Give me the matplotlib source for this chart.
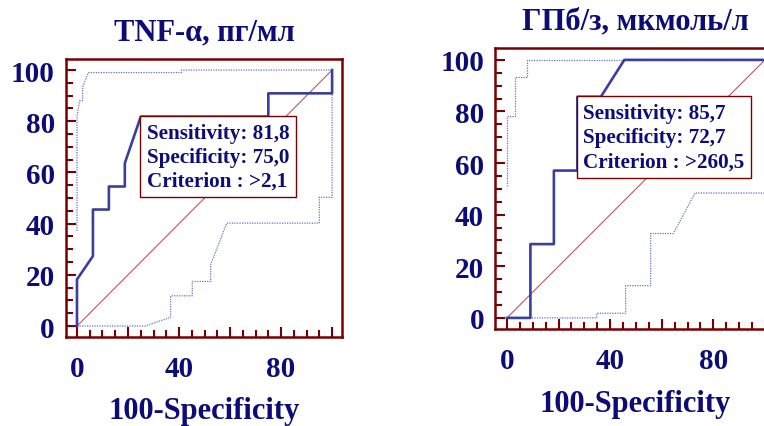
import matplotlib
matplotlib.use("Agg")
import matplotlib.pyplot as plt
from matplotlib.ticker import FixedLocator, MultipleLocator, FuncFormatter

plt.rcParams['font.family'] = ['Liberation Serif', 'DejaVu Serif']
plt.rcParams['font.weight'] = 'bold'

# TNF-alpha
tnf_fpr = [0, 0, 6.25, 6.25, 12.5, 12.5, 18.75, 18.75, 25, 75, 75, 100, 100]
tnf_tpr = [0, 18.2, 27.3, 45.5, 45.5, 54.5, 54.5, 63.6, 81.8, 81.8, 90.9, 90.9, 100]
tnf_up_x = [0, 0, 1.0, 2.2, 2.2, 4.5, 41, 41, 100]
tnf_up_y = [37.2, 82, 88, 88, 93.5, 99, 99, 100, 100]
tnf_lo_x = [0, 26.7, 36.7, 36.7, 45.2, 45.2, 52.4, 52.4, 58.7, 95, 95, 100, 100]
tnf_lo_y = [0, 0, 3.4, 11.8, 11.8, 17.4, 17.4, 24, 40.2, 40.2, 50.3, 50.3, 100]
tnf_point = (25, 81.8)
tnf_text = "Sensitivity: 81,8\nSpecificity: 75,0\nCriterion : >2,1"

# ГПб/з
gpb_fpr = [0, 9.1, 9.1, 18.2, 18.2, 27.3, 27.3, 36.4, 45.5, 100]
gpb_tpr = [0, 0, 28.6, 28.6, 57.1, 57.1, 85.7, 85.7, 100, 100]
gpb_up_x = [0, 0, 3.1, 3.1, 7.9, 7.9, 100]
gpb_up_y = [51.3, 78.2, 78.2, 93.5, 93.5, 100, 100]
gpb_lo_x = [0, 34.8, 34.8, 46, 46, 55.7, 55.7, 64.5, 72.9, 100, 100]
gpb_lo_y = [0, 0, 1.8, 1.8, 12.5, 12.5, 32.7, 32.7, 48.4, 48.4, 100]
gpb_point = (27.3, 85.7)
gpb_text = "Sensitivity: 85,7\nSpecificity: 72,7\nCriterion : >260,5"

navy = '#0c0c78'
frame = '#780000'
roc_col = '#3a3f9f'
ci_col = '#6a70c8'

fig = plt.figure(figsize=(7.64, 4.27), dpi=100)
ax1 = fig.add_axes([0.0864, 0.2084, 0.3613, 0.651])
ax2 = fig.add_axes([0.6483, 0.2272, 0.3665, 0.6574])


def draw_roc(ax, fpr, tpr, up_x, up_y, lo_x, lo_y, point, text, title, xlim, ylim):
    ax.plot([0, 100], [0, 100], color='#c05858', lw=0.8, zorder=2)
    ax.plot(up_x, up_y, color=ci_col, lw=0.9, ls=(0, (1, 1)), zorder=2)
    ax.plot(lo_x, lo_y, color=ci_col, lw=0.9, ls=(0, (1, 1)), zorder=2)
    ax.plot(fpr, tpr, color=roc_col, lw=1.9, zorder=3)
    ax.set_xlim(xlim)
    ax.set_ylim(ylim)
    for s in ax.spines.values():
        s.set_color(frame)
        s.set_linewidth(1.8)
    # подписи только у 0, 40, 80
    ax.xaxis.set_major_locator(FixedLocator([0, 20, 40, 60, 80, 100]))
    ax.xaxis.set_major_formatter(FuncFormatter(lambda v, p: '%d' % v if v in (0, 40, 80) else ''))
    ax.yaxis.set_major_locator(MultipleLocator(20))
    ax.xaxis.set_minor_locator(MultipleLocator(5))
    ax.yaxis.set_minor_locator(MultipleLocator(5))
    ax.tick_params(which='both', direction='in', color=frame, width=1.5,
                   top=False, right=False, labelcolor=navy, labelsize=21)
    ax.tick_params(which='major', length=7.2)
    ax.tick_params(which='minor', length=5)
    ax.tick_params(axis='y', pad=8)
    ax.tick_params(axis='x', pad=13)
    ax.text(0.5, 1.097, title, transform=ax.transAxes, ha='center', va='center',
            fontsize=22, color=navy, fontweight='bold')
    ax.text(0.5, -0.266, "100-Specificity", transform=ax.transAxes, ha='center', va='center',
            fontsize=22, color=navy, fontweight='bold')
    ax.annotate(text, xy=point, xytext=(6, -6), textcoords='offset pixels',
                ha='left', va='top', fontsize=15.2, color=navy, fontweight='bold',
                linespacing=1.28, zorder=5,
                bbox=dict(boxstyle='square,pad=0.3', fc='white', ec=frame, lw=1.0))


draw_roc(ax1, tnf_fpr, tnf_tpr, tnf_up_x, tnf_up_y, tnf_lo_x, tnf_lo_y,
         tnf_point, tnf_text, "TNF-α, пг/мл", (-4.3, 103.9), (-4.3, 104.3))
draw_roc(ax2, gpb_fpr, gpb_tpr, gpb_up_x, gpb_up_y, gpb_lo_x, gpb_lo_y,
         gpb_point, gpb_text, "ГПб/з, мкмоль/л", (-4.5, 104), (-4.3, 104.5))

fig.savefig('out.png', dpi=100)
